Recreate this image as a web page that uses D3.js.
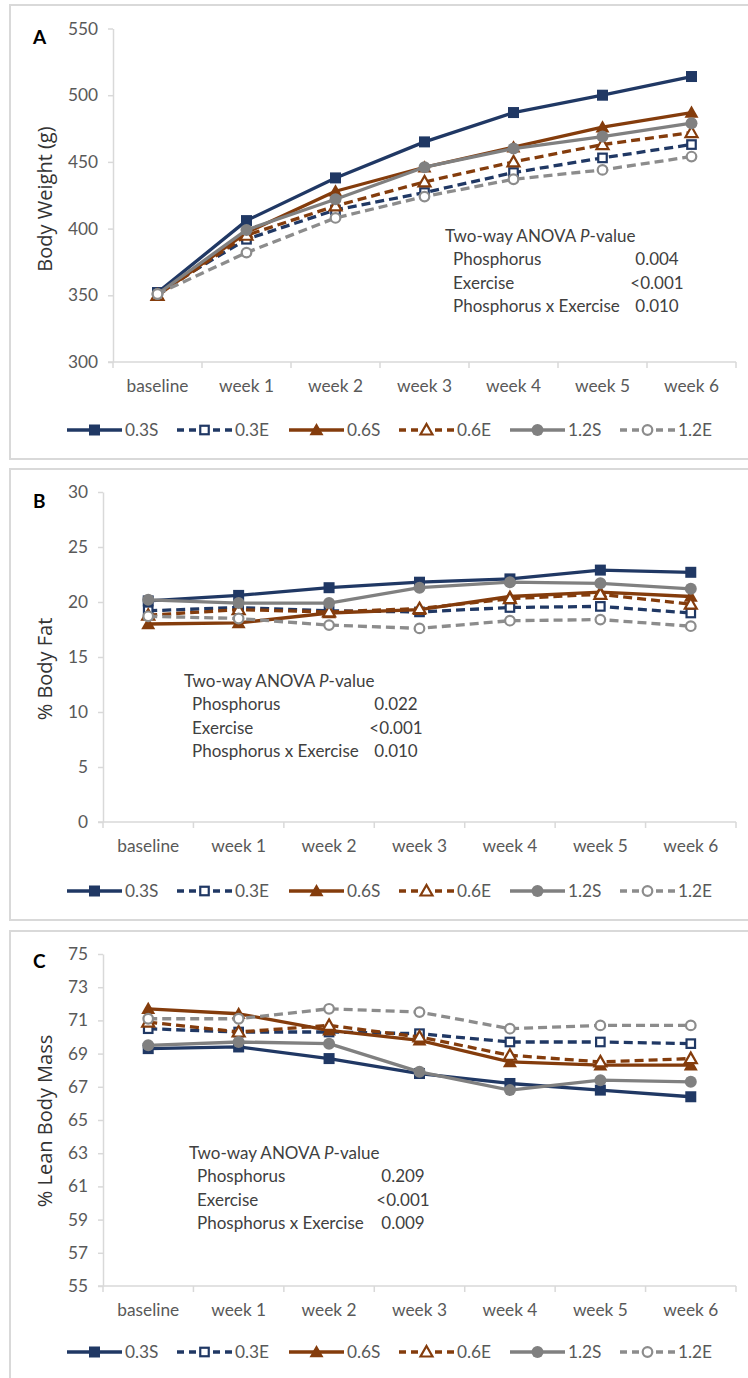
<!DOCTYPE html>
<html>
<head>
<meta charset="utf-8">
<script src="https://cdn.jsdelivr.net/npm/d3@7"></script>
<style>
  html, body { margin: 0; padding: 0; background: #fff; }
  svg { display: block; }
</style>
</head>
<body>
<svg id="chart" width="748" height="1378"></svg>
<script>
// ---- data ----
const timepoints = ["baseline", "week 1", "week 2", "week 3", "week 4", "week 5", "week 6"];
const groups = ["0.3S", "0.3E", "0.6S", "0.6E", "1.2S", "1.2E"];

// Body weight (g), one row per group in the order of `groups`
const bodyWeight = [
  [352, 406, 438, 465, 487, 500, 514],
  [352, 392, 414, 427, 442, 453, 463],
  [350, 397, 428, 446, 461, 476, 487],
  [350, 395, 417, 435, 450, 463, 472],
  [351, 399, 422, 446, 460, 469, 479],
  [351, 382, 408, 424, 437, 444, 454]
];
// % body fat
const bodyFat = [
  [20.1, 20.6, 21.3, 21.8, 22.1, 22.9, 22.7],
  [19.2, 19.5, 19.2, 19.1, 19.5, 19.6, 19.0],
  [18.0, 18.1, 19.0, 19.3, 20.5, 20.9, 20.5],
  [18.8, 19.3, 19.1, 19.4, 20.3, 20.7, 19.8],
  [20.2, 19.9, 19.9, 21.3, 21.8, 21.7, 21.2],
  [18.7, 18.5, 17.9, 17.6, 18.3, 18.4, 17.8]
];
// % lean body mass
const leanMass = [
  [69.3, 69.4, 68.7, 67.8, 67.2, 66.8, 66.4],
  [70.5, 70.3, 70.3, 70.2, 69.7, 69.7, 69.6],
  [71.7, 71.4, 70.4, 69.8, 68.5, 68.3, 68.3],
  [70.9, 70.3, 70.7, 70.0, 68.9, 68.5, 68.7],
  [69.5, 69.7, 69.6, 67.9, 66.8, 67.4, 67.3],
  [71.1, 71.1, 71.7, 71.5, 70.5, 70.7, 70.7]
];

const weightTicks = [300, 350, 400, 450, 500, 550];
const fatTicks = [0, 5, 10, 15, 20, 25, 30];
const leanTicks = [55, 57, 59, 61, 63, 65, 67, 69, 71, 73, 75];

const anovaTerms = ["Phosphorus", "Exercise", "Phosphorus x Exercise"];
const weightP = ["0.004", "<0.001", "0.010"];
const fatP = ["0.022", "<0.001", "0.010"];
const leanP = ["0.209", "<0.001", "0.009"];

// ---- styling per group ----
const NAVY = "#203864", BROWN = "#843C0C", GRAY = "#808080", LGRAY = "#8C8C8C";
const groupStyle = {
  "0.3S": { color: NAVY,  dash: null,  shape: "square",   filled: true },
  "0.3E": { color: NAVY,  dash: "9,5", shape: "square",   filled: false },
  "0.6S": { color: BROWN, dash: null,  shape: "triangle", filled: true },
  "0.6E": { color: BROWN, dash: "9,5", shape: "triangle", filled: false },
  "1.2S": { color: GRAY,  dash: null,  shape: "circle",   filled: true },
  "1.2E": { color: LGRAY, dash: "9,5", shape: "circle",   filled: false }
};

const TICK_FONT = "Lato, 'Liberation Sans', sans-serif";
const TITLE_FONT = "'Open Sans', 'DejaVu Sans', sans-serif";
const AXIS_COLOR = "#d9d9d9";
const TEXT_COLOR = "#595959";
const NOTE_COLOR = "#404040";

const svg = d3.select("#chart");

function drawMarker(g, shape, filled, color, cx, cy) {
  const fill = filled ? color : "#fff";
  const sw = filled ? 0 : 2.2;
  if (shape === "square") {
    const s = filled ? 11 : 8.5;
    g.append("rect").attr("x", cx - s / 2).attr("y", cy - s / 2)
      .attr("width", s).attr("height", s)
      .attr("fill", fill).attr("stroke", color).attr("stroke-width", sw);
  } else if (shape === "triangle") {
    const s = filled ? 7 : 6;
    g.append("path")
      .attr("d", `M${cx},${cy - s}L${cx + s},${cy + s * 0.75}L${cx - s},${cy + s * 0.75}Z`)
      .attr("fill", fill).attr("stroke", color).attr("stroke-width", sw)
      .attr("stroke-linejoin", "miter");
  } else {
    const r = filled ? 6 : 4.8;
    g.append("circle").attr("cx", cx).attr("cy", cy).attr("r", r)
      .attr("fill", fill).attr("stroke", color).attr("stroke-width", sw);
  }
}

function drawPanel(cfg) {
  const root = svg.append("g");

  // frame
  root.append("rect")
    .attr("x", 10).attr("y", cfg.top)
    .attr("width", 760).attr("height", cfg.bottom - cfg.top)
    .attr("fill", "none").attr("stroke", AXIS_COLOR).attr("stroke-width", 2);

  // panel letter
  root.append("text")
    .attr("x", 33).attr("y", cfg.letterY)
    .attr("font-family", TICK_FONT).attr("font-weight", "bold")
    .attr("font-size", 19).attr("fill", "#000")
    .text(cfg.letter);

  const x = d3.scaleBand().domain(timepoints).range([cfg.left, 736]);
  const y = d3.scaleLinear().domain(cfg.domain).range([cfg.y0, cfg.y1]);

  // y axis
  const yAxis = root.append("g")
    .attr("transform", `translate(${cfg.left},0)`)
    .call(d3.axisLeft(y).tickValues(cfg.ticks).tickSize(5).tickPadding(10).tickSizeOuter(0));
  yAxis.select(".domain").attr("stroke", AXIS_COLOR).attr("stroke-width", 1.5);
  yAxis.selectAll(".tick line").attr("stroke", AXIS_COLOR).attr("stroke-width", 1.5);
  yAxis.selectAll(".tick text")
    .attr("font-family", TICK_FONT).attr("font-size", 17.3).attr("fill", TEXT_COLOR);

  // x axis: labels centred in bands, tick marks at band edges
  const xAxis = root.append("g")
    .attr("transform", `translate(0,${cfg.y0})`)
    .call(d3.axisBottom(x).tickSize(0).tickPadding(18).tickSizeOuter(0));
  xAxis.select(".domain").remove();
  xAxis.selectAll(".tick text")
    .attr("font-family", TICK_FONT).attr("font-size", 17.3).attr("fill", TEXT_COLOR);
  xAxis.append("line")
    .attr("x1", cfg.left - 5).attr("x2", x.range()[1])
    .attr("stroke", AXIS_COLOR).attr("stroke-width", 1.5);
  const edges = timepoints.map(t => x(t)).concat([x.range()[1]]);
  xAxis.selectAll("line.edge").data(edges).join("line")
    .attr("class", "edge")
    .attr("x1", d => d).attr("x2", d => d)
    .attr("y1", 0).attr("y2", 6)
    .attr("stroke", AXIS_COLOR).attr("stroke-width", 1.5);

  // y-axis title
  root.append("text")
    .attr("transform", `translate(${cfg.titleX},${cfg.titleY}) rotate(-90)`)
    .attr("text-anchor", "middle").attr("dy", "0.35em")
    .attr("font-family", TITLE_FONT).attr("font-size", 20).attr("fill", "#333")
    .text(cfg.title);

  // series
  const line = d3.line()
    .x((d, i) => x(timepoints[i]) + x.bandwidth() / 2)
    .y(d => y(d));
  groups.forEach((gname, gi) => {
    const st = groupStyle[gname];
    const vals = cfg.values[gi];
    const sg = root.append("g");
    sg.append("path")
      .attr("d", line(vals))
      .attr("fill", "none").attr("stroke", st.color).attr("stroke-width", 3.3)
      .attr("stroke-linejoin", "round")
      .attr("stroke-dasharray", st.dash);
    vals.forEach((v, i) => {
      drawMarker(sg, st.shape, st.filled, st.color,
        x(timepoints[i]) + x.bandwidth() / 2, y(v));
    });
  });

  // ANOVA note
  const note = root.append("g")
    .attr("font-family", TICK_FONT).attr("font-size", 17).attr("fill", NOTE_COLOR);
  const head = note.append("text")
    .attr("x", cfg.noteX).attr("y", cfg.noteY).attr("dy", "0.35em");
  head.append("tspan").text("Two-way ANOVA ");
  head.append("tspan").attr("font-style", "italic").text("P");
  head.append("tspan").text("-value");
  anovaTerms.forEach((term, i) => {
    const ry = cfg.noteY + (i + 1) * 23.3;
    note.append("text").attr("x", cfg.noteX + 8).attr("y", ry).attr("dy", "0.35em").text(term);
    note.append("text").attr("x", cfg.valueX).attr("y", ry).attr("dy", "0.35em")
      .attr("text-anchor", "middle").text(cfg.pvalues[i]);
  });

  // legend
  const lg = root.append("g").attr("transform", `translate(0,${cfg.legendY})`);
  const legendStarts = [67, 177, 289, 399, 510, 620];
  groups.forEach((gname, gi) => {
    const st = groupStyle[gname];
    const x0 = legendStarts[gi];
    lg.append("line")
      .attr("x1", x0).attr("x2", x0 + 55).attr("y1", 0).attr("y2", 0)
      .attr("stroke", st.color).attr("stroke-width", 3.3)
      .attr("stroke-dasharray", st.dash ? "7,5" : null);
    drawMarker(lg, st.shape, st.filled, st.color, x0 + 27.5, 0);
    lg.append("text")
      .attr("x", x0 + 58).attr("y", 0).attr("dy", "0.35em")
      .attr("font-family", TICK_FONT).attr("font-size", 17.3).attr("fill", TEXT_COLOR)
      .text(gname);
  });
}

drawPanel({
  letter: "A", top: 5, bottom: 459, letterY: 44,
  left: 113, y0: 362, y1: 28.5, domain: [300, 550], ticks: weightTicks,
  title: "Body Weight (g)", titleX: 45, titleY: 199,
  values: bodyWeight, pvalues: weightP,
  noteX: 445, noteY: 236, valueX: 657, legendY: 430
});

drawPanel({
  letter: "B", top: 469, bottom: 920, letterY: 508,
  left: 103, y0: 822, y1: 492, domain: [0, 30], ticks: fatTicks,
  title: "% Body Fat", titleX: 45, titleY: 669,
  values: bodyFat, pvalues: fatP,
  noteX: 184, noteY: 681, valueX: 396, legendY: 891
});

drawPanel({
  letter: "C", top: 931, bottom: 1400, letterY: 968,
  left: 103, y0: 1286, y1: 954, domain: [55, 75], ticks: leanTicks,
  title: "% Lean Body Mass", titleX: 45, titleY: 1121,
  values: leanMass, pvalues: leanP,
  noteX: 189, noteY: 1153, valueX: 403, legendY: 1352
});
</script>
</body>
</html>
